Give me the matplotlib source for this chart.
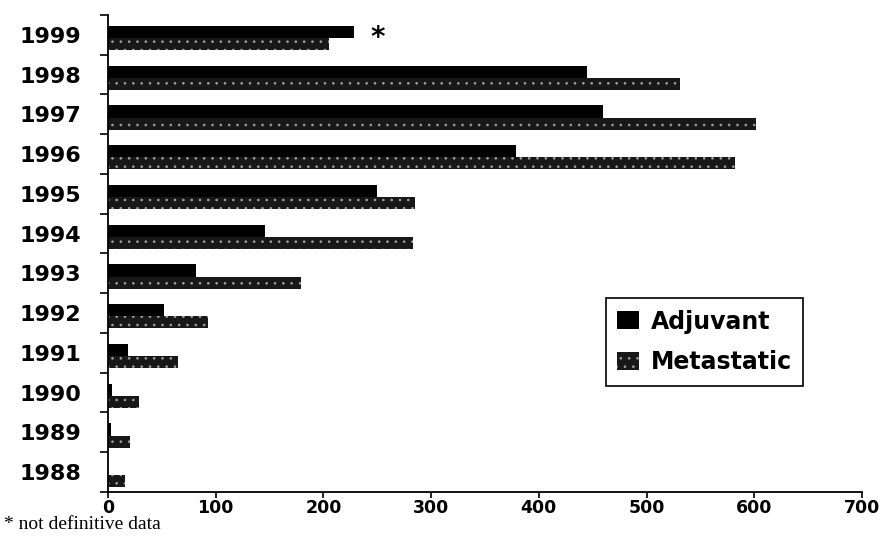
"""Horizontal grouped bars: adjuvant vs metastatic counts per year."""

import matplotlib

matplotlib.use("Agg")
import matplotlib.pyplot as plt
import numpy as np

years = ["1988", "1989", "1990", "1991", "1992", "1993",
         "1994", "1995", "1996", "1997", "1998", "1999"]
adjuvant = [0, 3, 4, 19, 52, 82, 146, 250, 379, 460, 445, 228]
metastatic = [16, 20, 29, 65, 93, 179, 283, 285, 582, 602, 531, 205]
x_ticks = [0, 100, 200, 300, 400, 500, 600, 700]

plt.rcParams["hatch.linewidth"] = 0.7

fig = plt.figure(figsize=(8.85, 5.46), dpi=100)
ax = fig.add_axes([0.122, 0.099, 0.852, 0.8736])

y = np.arange(len(years))
ax.barh(y + 0.07, adjuvant, height=0.31, color="black", label="Adjuvant")
# hatch takes the edge colour; linewidth 0 keeps the outline invisible
ax.barh(y - 0.235, metastatic, height=0.30, facecolor="#181818", hatch="..",
        edgecolor="#9a9a9a", linewidth=0, label="Metastatic")

# star marking the incomplete last year
ax.annotate("*", (adjuvant[-1], y[-1] + 0.07), xytext=(12, -4),
            textcoords="offset points", fontsize=20, fontweight="bold",
            ha="left", va="center")

ax.set_xlim(0, 700)
ax.set_ylim(-0.5, len(years) - 0.5)
ax.set_xticks(x_ticks)
ax.set_xticklabels([str(v) for v in x_ticks], fontsize=12.5, fontweight="bold")
ax.set_yticks(y)
ax.set_yticklabels(years, fontsize=16, fontweight="bold")
ax.set_yticks(np.arange(-0.5, len(years)), minor=True)
ax.tick_params(axis="y", which="major", length=0, pad=19)
ax.tick_params(axis="y", which="minor", length=6, width=1.2, direction="out")
ax.tick_params(axis="x", length=4, width=1.2, direction="out", pad=1)

for side in ("top", "right"):
    ax.spines[side].set_visible(False)
for side in ("left", "bottom"):
    ax.spines[side].set_linewidth(1.3)

leg = ax.legend(loc="upper left", bbox_to_anchor=(0.66, 0.407),
                borderaxespad=0, prop={"size": 17, "weight": "bold"},
                fancybox=False, edgecolor="black", framealpha=1,
                handlelength=0.9, handleheight=0.8, handletextpad=0.5,
                labelspacing=0.7, borderpad=0.5)
leg.get_frame().set_linewidth(1.2)

fig.text(0.004, 0.040, "* not definitive data", family="Liberation Serif",
         fontsize=14, ha="left", va="center")

fig.savefig("out.png", dpi=100)
